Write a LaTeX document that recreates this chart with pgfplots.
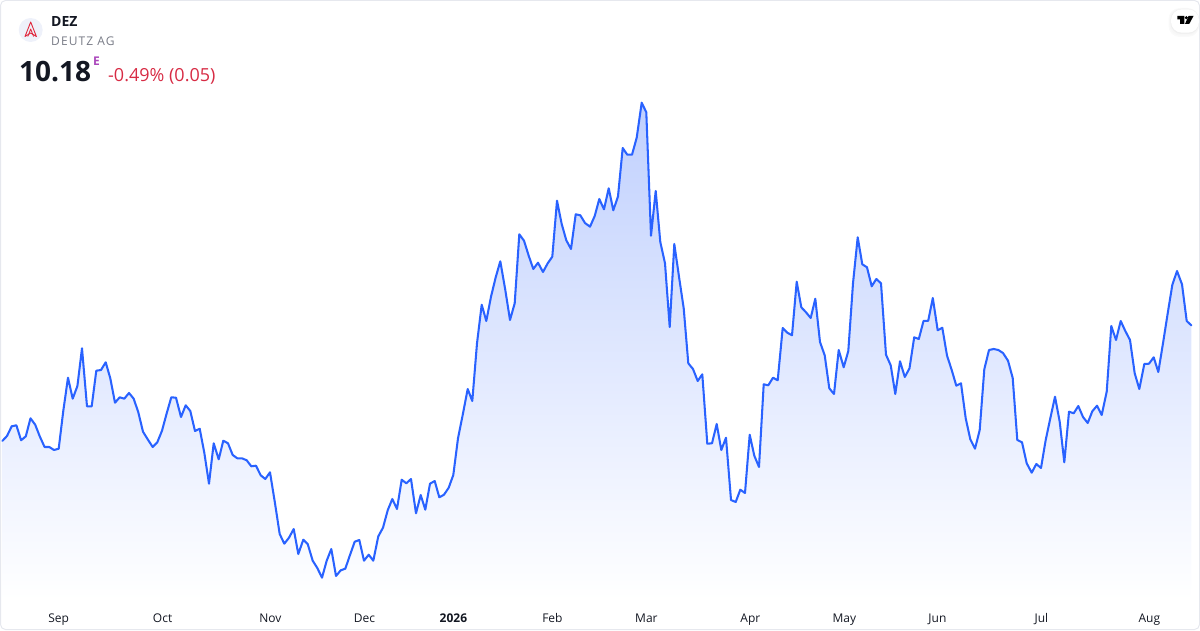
\documentclass[border=0pt]{standalone}
\usepackage{pgfplots}
\usepackage{pgfplotstable}
\usepackage{fontspec}
\pgfplotsset{compat=1.18}
\setmainfont{Open Sans}
\newfontfamily\spacedfont[LetterSpace=9]{Open Sans}
\definecolor{lineblue}{HTML}{2962FF}
\definecolor{filltop}{HTML}{C0D0FE}
\definecolor{axtext}{HTML}{131722}
\definecolor{subgrey}{HTML}{787B86}
\definecolor{cardborder}{HTML}{E6E8EE}
\definecolor{logored}{HTML}{E0263C}
\definecolor{logobg}{HTML}{EEF1FA}
\definecolor{chgred}{HTML}{D72B44}
\definecolor{epurple}{HTML}{AB47BC}
\pgfplotstableread{
x h
2.3 159
7 164
11.7 173.7
16.4 174.7
21.1 159.7
25.8 163.7
30.5 181.7
35.2 175.3
39.9 163.3
44.6 153
49.3 153
54 150
58.7 151.3
63.4 190
68 222.3
72.7 201.3
77.4 214
82 251.7
87 193.7
91.7 193.7
96.3 229.3
101 230
105.7 237.7
110.3 221.7
115 197.3
119.7 202.7
124.3 201.3
129 207
133.7 201.3
138.3 187.7
143 168.3
147.7 160.7
152.7 153
157.3 157.7
162 169.3
166.7 186.7
171.3 202.7
176 202.3
181 183
185.7 194.7
190.3 189
195 169
199.7 171.3
204.3 147.3
209 116.3
213.7 156.7
218.7 140.7
223.3 159.3
228 156.7
232.7 145
237.3 141.7
242 141.7
246.7 139.7
251.3 133.7
256 134.3
260.7 124.7
265.3 121
270 127.7
275 96.7
279.7 66
284.3 56.3
289 62.3
293.7 71
298.3 46
303.3 60.3
307.7 56
312.7 39.3
317.3 32
322 22.3
326.7 39.3
331.3 51
336 24
340.7 29.7
345.3 31.3
350 45
354.7 58.3
359.3 60
364 39.3
368.7 45.3
373.3 39.3
378.3 63.7
383 72.3
387.7 89.7
392.3 101
397 91
401.7 120.3
406.3 116.7
411 121
416 86.7
420.7 105
425.3 90.3
430 116.3
434.7 119
439.3 102.7
444 105.3
448.7 112.3
453.3 125
458 161.7
462.7 185
467.7 211
472.3 199
477 256.7
481.7 295.3
486.3 279
491 303.3
495.7 322.7
500.3 338.7
505.3 310
510 280
514.7 296.7
519.3 365.7
524 359.3
528.7 344.3
533.3 331
538 337.3
543 328
547.7 336.7
552.3 343.3
557 399.3
561.7 376
566.3 359.7
571 351
575.7 385.7
580.3 384.7
585 377
590 373.3
594.7 384
599.3 401
604 390.7
608.7 411.7
613.3 389.7
618 403.7
622.7 452
627.3 445.3
632 445.3
636.7 462.3
641.7 497.3
646.3 487.7
651 364.3
655.7 409
660.3 358
665 336.7
669.7 273
674.3 356
679 323.3
683.7 291.7
688.3 236.7
693 231
697.7 219
702.3 225.7
707.3 156.3
712 156.7
716.7 176
721.3 150
726 162.3
731 100
735.7 98
740.3 110.3
745 107
749.7 165.3
754.3 144.3
759 133
763.7 215.7
768.3 214.7
773 222.3
777.7 219.7
782.7 272
787.3 267.3
792 264.7
796.7 318.3
801.3 292.7
806 287.7
810.7 282
815.3 301.3
820 258
824.7 244.7
829.3 211.7
834 206
838.7 250
843.7 232.7
848.3 249
853 316.7
857.7 362.7
862.3 335.7
867 332.7
871.7 313.7
876.3 321
881 316.7
886 245.3
890.7 234.7
895.3 206
900 238.7
904.8 223
909.5 231.7
914.2 262.7
918.8 261
923.5 279
928.2 279.2
932.8 302
937.7 269.7
942.3 272.3
947 244.5
951.7 230
956.3 214.3
961 216.7
965.7 181.7
970.3 160.7
975 151.3
979.7 170
984.3 230.7
989 250
993.7 251
998.3 250
1003 247
1008 239.3
1012.7 222
1017.3 160
1022 157.7
1026.7 136.7
1031.7 127.3
1036.3 136
1041 132
1045.7 160
1050.3 181.7
1055 203.3
1059.7 178.3
1064.3 137.7
1069 188.3
1073.7 186.7
1078.3 194
1083 183
1087.7 177
1092.3 188.7
1097 194.3
1101.7 185
1106.7 208.3
1111.3 274
1116 260
1120.7 279
1125.3 269
1130 260
1134.7 226.7
1139.3 211
1144.3 236
1149 236.3
1153.7 242.7
1158.3 228
1163 256.7
1167.7 286.7
1172.3 315
1177 329
1182 315.7
1186.7 279
1191.3 274.7
}\pricedata
\begin{document}
\begin{tikzpicture}
\begin{axis}[
  x=1pt,y=1pt,
  xmin=0,xmax=1200,ymin=-6,ymax=600,
  clip=false,
  axis line style={draw=none},
  major tick length=0pt,
  ytick=\empty,
  xtick={58.6,162.6,270.4,364.4,453.4,552.4,646.4,750.4,844.4,937.4,1041.4,1149.4},
  xticklabels={Sep,Oct,Nov,Dec,\textbf{2026},Feb,Mar,Apr,May,Jun,Jul,Aug},
  xticklabel style={font=\fontsize{12}{14}\selectfont,text=axtext,anchor=base,inner sep=0pt},
  xticklabel shift=0pt,
  every x tick label/.append style={yshift=-16.5pt},
]
\addplot[draw=none,top color=filltop,bottom color=white,shading angle=0] table[x=x,y=h] {\pricedata} \closedcycle;
\addplot[lineblue,line width=2.05pt,line join=round,line cap=round] table[x=x,y=h] {\pricedata};
\draw[cardborder,line width=1pt,rounded corners=5pt] (axis cs:0.5,-29.5) rectangle (axis cs:1199.5,599.5);
% header
\fill[logobg] (axis cs:30.7,570) circle[radius=12pt];
\draw[logored,line width=0.9pt,line join=round] (axis cs:30.7,578) -- (axis cs:25,563.5) -- (axis cs:30.7,567) -- (axis cs:36.4,563.5) -- cycle;
\draw[logored,line width=0.8pt,line join=round] (axis cs:27.8,563.5) -- (axis cs:30.7,571) -- (axis cs:33.6,563.5);
\node[anchor=base west,inner sep=0pt,text=axtext,font=\fontsize{14}{16}\selectfont\bfseries] at (axis cs:51,573.5) {DEZ};
\node[anchor=base west,inner sep=0pt,text=subgrey,font=\fontsize{12}{14}\selectfont\spacedfont] at (axis cs:51,554.5) {DEUTZ AG};
\node[anchor=base west,inner sep=0pt,text=axtext,font=\fontsize{28}{32}\selectfont\bfseries] at (axis cs:19,518) {10.18};
\node[anchor=base west,inner sep=0pt,text=epurple,font=\fontsize{12}{14}\selectfont\bfseries] at (axis cs:93,534) {E};
\node[anchor=base west,inner sep=0pt,text=chgred,font=\fontsize{18}{20}\selectfont] at (axis cs:108,518) {-0.49\% (0.05)};
% badge
\fill[black!2,rounded corners=11pt] (axis cs:1168.5,563) rectangle (axis cs:1199,592);
\fill[black!3,rounded corners=11pt] (axis cs:1169.5,564.5) rectangle (axis cs:1199,591.5);
\fill[black!6,rounded corners=11pt] (axis cs:1170.5,566) rectangle (axis cs:1199,591);
\fill[white,rounded corners=11pt] (axis cs:1171,567.3) rectangle (axis cs:1199,590.7);
\fill[black] (axis cs:1177.3,584) -- (axis cs:1184.3,584) -- (axis cs:1184.3,576) -- (axis cs:1180.2,576) -- (axis cs:1180.2,580.7) -- (axis cs:1177.3,580.7) -- cycle;
\fill[black] (axis cs:1186.3,582.3) circle[radius=1.7pt];
\fill[black] (axis cs:1188.5,584) -- (axis cs:1193.5,584) -- (axis cs:1189.2,576) -- (axis cs:1185,576) -- cycle;
\end{axis}
\pgfresetboundingbox
\path[use as bounding box] (0pt,-24pt) rectangle (1200pt,606pt);
\end{tikzpicture}
\end{document}
